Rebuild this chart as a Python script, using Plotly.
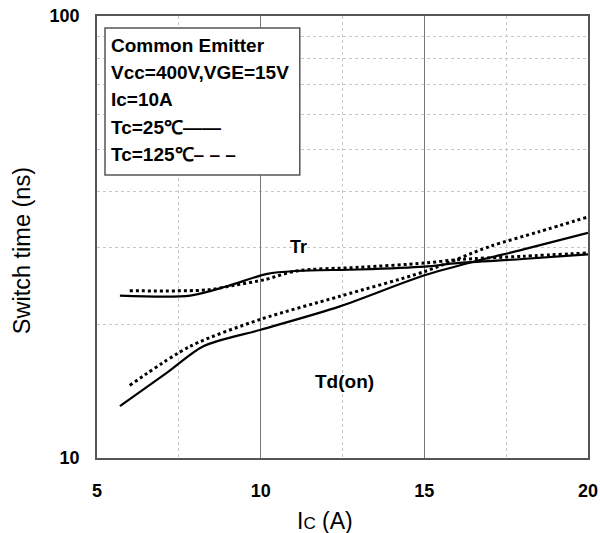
import plotly.graph_objects as go

# Collector current (A) and switching times (ns)
tr_25_x = [5.7, 7.85, 9.0, 10.2, 11.1, 13.0, 15.0, 16.0, 18.0, 20.0]
tr_25_y = [23.3, 23.3, 24.5, 26.1, 26.5, 26.7, 27.1, 27.6, 28.2, 28.9]

tr_125_x = [6.0, 8.36, 9.2, 10.1, 11.1, 13.0, 15.0, 16.0, 18.0, 20.0]
tr_125_y = [23.9, 24.0, 24.6, 25.3, 26.5, 27.0, 27.6, 28.1, 28.6, 29.1]

td_25_x = [5.7, 7.14, 8.25, 10.0, 12.4, 15.0, 16.5, 18.0, 20.0]
td_25_y = [13.1, 15.6, 17.9, 19.5, 22.0, 25.9, 27.8, 29.6, 32.3]

td_125_x = [6.0, 7.85, 10.0, 12.4, 15.0, 17.0, 18.5, 20.0]
td_125_y = [14.6, 17.9, 20.6, 23.2, 26.4, 30.1, 32.5, 35.1]

x_ticks = [5, 10, 15, 20]
y_ticks = [10, 100]
y_minor = [20, 30, 40, 50, 60, 70, 80, 90]

legend_lines = [
    "Common Emitter",
    "Vcc=400V,VGE=15V",
    "Ic=10A",
    "Tc=25℃——",
    "Tc=125℃– – –",
]

FONT = "Arial, Liberation Sans, sans-serif"

fig = go.Figure()

solid = dict(color="black", width=2.2, shape="spline", smoothing=0.8)
dotted = dict(color="black", width=3, dash="dot", shape="spline", smoothing=0.8)

fig.add_trace(go.Scatter(x=tr_25_x, y=tr_25_y, mode="lines", line=solid))
fig.add_trace(go.Scatter(x=tr_125_x, y=tr_125_y, mode="lines", line=dotted))
fig.add_trace(go.Scatter(x=td_25_x, y=td_25_y, mode="lines", line=solid))
fig.add_trace(go.Scatter(x=td_125_x, y=td_125_y, mode="lines", line=dotted))

# Curve labels
fig.add_annotation(x=11.15, y=1.4785, text="<b>Tr</b>", showarrow=False,
                   font=dict(family=FONT, size=18, color="black"))
fig.add_annotation(x=12.55, y=1.172, text="<b>Td(on)</b>", showarrow=False,
                   font=dict(family=FONT, size=19, color="black"))

# Test-condition box
fig.add_shape(type="rect", xref="paper", yref="paper",
              x0=0.0163, x1=0.413, y0=0.640, y1=0.973,
              line=dict(color="#555555", width=1.5), fillcolor="white", layer="above")
for i, txt in enumerate(legend_lines):
    fig.add_annotation(xref="paper", yref="paper", x=0.0244, y=0.934 - i * 0.062,
                       xanchor="left", yanchor="middle", text="<b>" + txt + "</b>",
                       showarrow=False,
                       font=dict(family=FONT, size=19, color="black"))

# Axis titles
fig.add_annotation(xref="paper", yref="paper", x=-0.1527, y=0.468,
                   text="Switch time (ns)", textangle=-90, showarrow=False,
                   xanchor="center", yanchor="middle",
                   font=dict(family=FONT, size=23.5, color="black"))
fig.add_annotation(xref="paper", yref="paper", x=0.464, y=-0.1425,
                   text="I<span style='font-size:17px'>C</span> (A)", showarrow=False,
                   xanchor="center", yanchor="middle",
                   font=dict(family=FONT, size=23, color="black"))

fig.update_layout(
    width=600, height=533,
    margin=dict(l=97, r=12, t=16, b=75),
    paper_bgcolor="white", plot_bgcolor="white",
    showlegend=False,
    font=dict(family=FONT, color="black"),
    xaxis=dict(
        range=[5, 20], tickvals=x_ticks, ticktext=[f"<b>{v}</b>" for v in x_ticks],
        showgrid=True, gridcolor="#777777", gridwidth=1.2,
        minor=dict(dtick=2.5, tick0=5, showgrid=True, gridcolor="#c8c8c8",
                   griddash="dot", gridwidth=1),
        showline=True, mirror=True, linecolor="#555555", linewidth=1.5,
        ticks="", ticklabelstandoff=16, zeroline=False, automargin=False,
        tickfont=dict(family=FONT, size=18, color="black"),
    ),
    yaxis=dict(
        type="log", range=[1, 2], tickvals=y_ticks,
        ticktext=[f"<b>{v}</b>" for v in y_ticks],
        showgrid=False,
        minor=dict(tickvals=y_minor, showgrid=True, gridcolor="#c8c8c8",
                   griddash="dot", gridwidth=1),
        showline=True, mirror=True, linecolor="#555555", linewidth=1.5,
        ticks="", ticklabelstandoff=12, zeroline=False, automargin=False,
        tickfont=dict(family=FONT, size=18, color="black"),
    ),
)

fig.write_html("out.html")
